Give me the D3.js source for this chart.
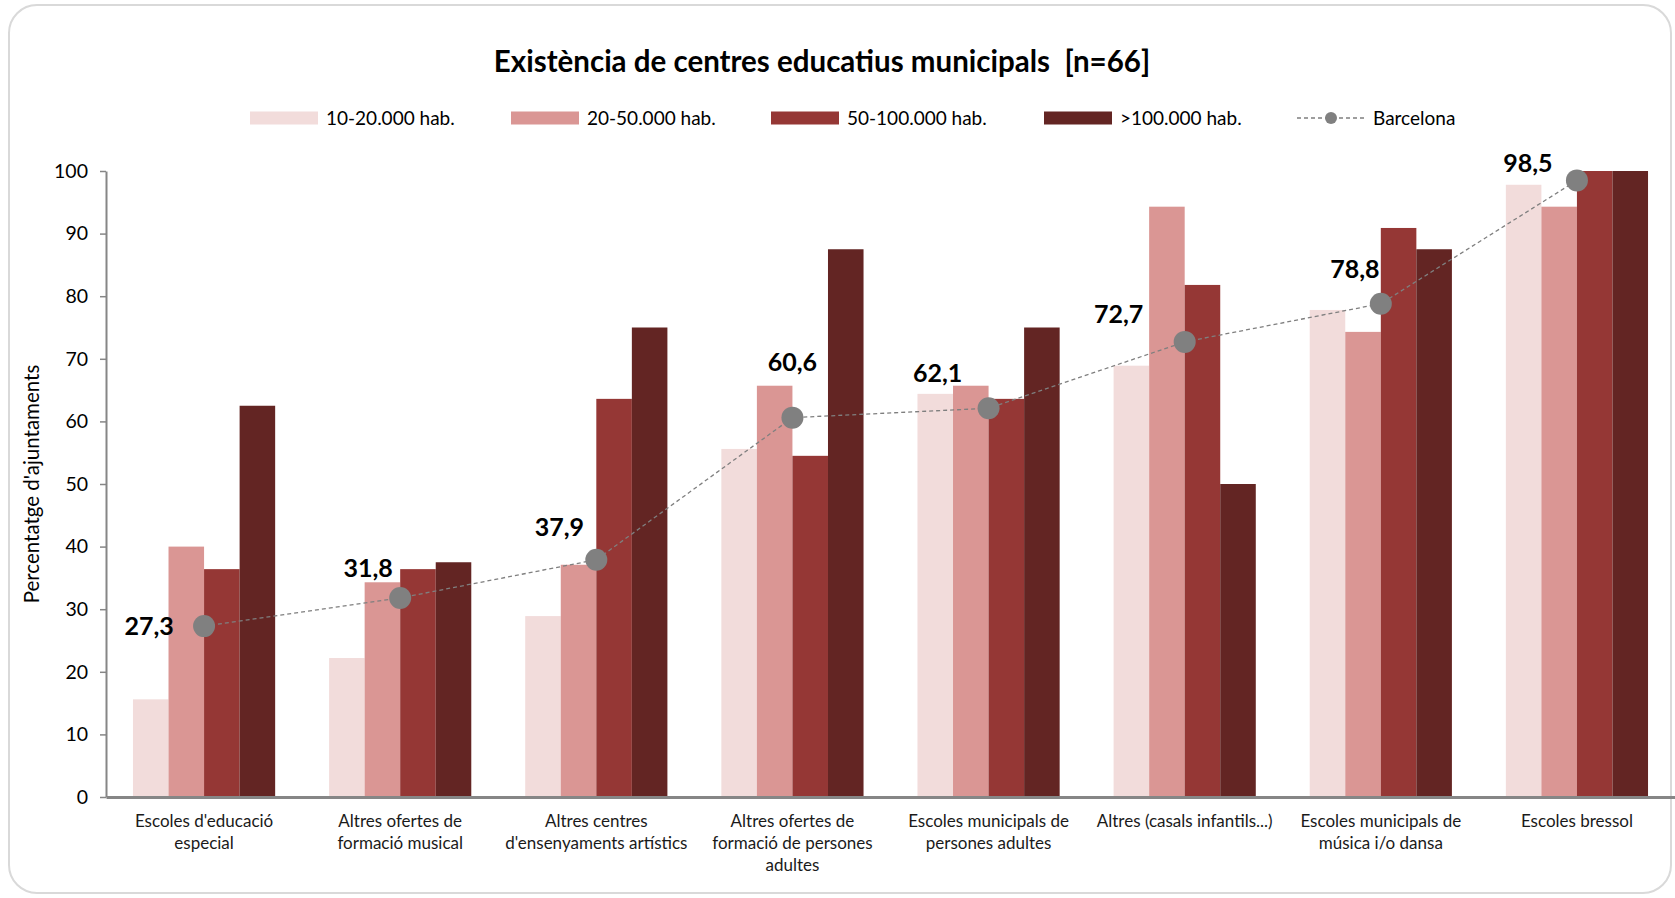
<!DOCTYPE html>
<html>
<head>
<meta charset="utf-8">
<script src="https://cdn.jsdelivr.net/npm/d3@7"></script>
<style>
  body { margin: 0; background: #fff; }
  svg, svg text { font-family: Lato, "Open Sans", sans-serif; }
  svg { display: block; }
</style>
</head>
<body>
<svg></svg>
<script>
// chart data

var categories = [
	"Escoles d'educació\nespecial",
	"Altres ofertes de\nformació musical",
	"Altres centres\nd'ensenyaments artístics",
	"Altres ofertes de\nformació de persones\nadultes",
	"Escoles municipals de\npersones adultes",
	"Altres (casals infantils...)",
	"Escoles municipals de\nmúsica i/o dansa",
	"Escoles bressol"
];

var series = ['10-20.000 hab.', '20-50.000 hab.', '50-100.000 hab.', '>100.000 hab.'];

var hab10_20 = [15.6, 22.2, 28.9, 55.6, 64.4, 68.9, 77.8, 97.8];
var hab20_50 = [40.0, 34.3, 37.1, 65.7, 65.7, 94.3, 74.3, 94.3];
var hab50_100 = [36.4, 36.4, 63.6, 54.5, 63.6, 81.8, 90.9, 100];
var hab100 = [62.5, 37.5, 75.0, 87.5, 75.0, 50.0, 87.5, 100];

var barcelona = [27.3, 31.8, 37.9, 60.6, 62.1, 72.7, 78.8, 98.5];

var yTicks = [0, 10, 20, 30, 40, 50, 60, 70, 80, 90, 100];

var colors = ['#f2dcdb', '#da9694', '#953735', '#632523'];

// hand placed label nudges (px) for the Barcelona values, like in the excel original
var labelNudge = [[-55, 0], [-32, -30], [-37, -32], [0, -55], [-51, -35], [-66, -28], [-26, -34], [-49, -17]];

var width = 1675,
	height = 898,
	plotLeft = 106,
	plotTop = 171,
	plotBottom = 797;

var table = categories.map((c, i) => ({
	cat: c,
	values: [hab10_20[i], hab20_50[i], hab50_100[i], hab100[i]],
	bcn: barcelona[i]
}));

var x0 = d3.scaleBand()
			.domain(categories)
			.range([plotLeft, width])
			.paddingInner(0.275)
			.paddingOuter(0.1375);

var x1 = d3.scaleBand()
			.domain(d3.range(series.length))
			.range([0, x0.bandwidth()]);

var yScale = d3.scaleLinear()
				.domain([0, 100])
				.range([plotBottom, plotTop]);

var svg = d3.select('svg')
			.attr('width', width)
			.attr('height', height);

// rounded frame
svg.append('rect')
	.attr('x', 9)
	.attr('y', 5)
	.attr('width', 1662)
	.attr('height', 888)
	.attr('rx', 28)
	.attr('fill', 'none')
	.attr('stroke', '#d9d9d9')
	.attr('stroke-width', 2);

// title
svg.append('text')
	.attr('x', 822)
	.attr('y', 72)
	.style('text-anchor', 'middle')
	.style('font-size', '29.5px')
	.style('font-weight', 'bold')
	.attr('fill', '#000')
	.attr('xml:space', 'preserve')
	.text('Existència de centres educatius municipals  [n=66]');

// bars
var groups = svg.selectAll('g.grp')
	.data(table)
	.enter()
	.append('g')
		.attr('class', 'grp')
		.attr('transform', d => 'translate(' + x0(d.cat) + ',0)');

groups.selectAll('rect')
	.data(d => d.values)
	.enter()
	.append('rect')
		.attr('x', (d, i) => x1(i))
		.attr('y', d => yScale(d))
		.attr('width', x1.bandwidth())
		.attr('height', d => plotBottom - yScale(d))
		.attr('fill', (d, i) => colors[i]);

// y axis
var yAxis = d3.axisLeft(yScale)
			.tickValues(yTicks)
			.tickSize(6)
			.tickSizeOuter(0)
			.tickPadding(12);

var gy = svg.append('g')
	.attr('transform', 'translate(' + plotLeft + ',0)')
	.call(yAxis)
	.attr('font-family', null);
gy.select('.domain').attr('stroke', '#868686').attr('stroke-width', 2);
gy.selectAll('.tick line').attr('stroke', '#868686').attr('stroke-width', 1.5);
gy.selectAll('.tick text')
	.style('font-size', '19.5px')
	.attr('fill', '#000');

// x axis
var gx = svg.append('g')
	.attr('transform', 'translate(0,' + plotBottom + ')')
	.call(d3.axisBottom(x0).tickSize(0).tickSizeOuter(0).tickFormat(''))
	.attr('font-family', null);
gx.select('.domain').attr('stroke', '#868686').attr('stroke-width', 3);

gx.selectAll('.tick').each(function(d) {
	var t = d3.select(this).append('text')
		.attr('fill', '#1a1a1a')
		.style('text-anchor', 'middle')
		.style('font-size', '17px');
	d.split('\n').forEach((line, k) => {
		t.append('tspan')
			.attr('x', 0)
			.attr('y', 30 + k * 22)
			.text(line);
	});
});

// y axis title
svg.append('text')
	.attr('transform', 'translate(39,' + ((plotTop + plotBottom) / 2) + ') rotate(-90)')
	.style('text-anchor', 'middle')
	.style('font-size', '20.5px')
	.attr('fill', '#000')
	.text("Percentatge d'ajuntaments");

// Barcelona line
var cx = d => x0(d.cat) + x0.bandwidth() / 2;

var line = d3.line()
	.x(cx)
	.y(d => yScale(d.bcn));

svg.append('path')
	.datum(table)
	.attr('d', line)
	.attr('fill', 'none')
	.attr('stroke', '#7f7f7f')
	.attr('stroke-width', 1.3)
	.attr('stroke-dasharray', '4,3');

svg.selectAll('circle.bcn')
	.data(table)
	.enter()
	.append('circle')
		.attr('class', 'bcn')
		.attr('cx', cx)
		.attr('cy', d => yScale(d.bcn))
		.attr('r', 11)
		.attr('fill', '#808080');

svg.selectAll('text.bcn')
	.data(table)
	.enter()
	.append('text')
		.attr('class', 'bcn')
		.attr('x', (d, i) => cx(d) + labelNudge[i][0])
		.attr('y', (d, i) => yScale(d.bcn) + labelNudge[i][1])
		.attr('dy', '0.35em')
		.style('text-anchor', 'middle')
		.style('font-size', '25px')
		.style('font-weight', 'bold')
		.attr('fill', '#000')
		.text(d => d3.format('.1f')(d.bcn).replace('.', ','));

// legend
var legendX = [250, 511, 771, 1044];
var legend = svg.selectAll('g.leg')
	.data(series)
	.enter()
	.append('g')
		.attr('class', 'leg')
		.attr('transform', (d, i) => 'translate(' + legendX[i] + ',118)');

legend.append('rect')
	.attr('x', 0)
	.attr('y', -6.5)
	.attr('width', 68)
	.attr('height', 13)
	.attr('fill', (d, i) => colors[i]);

legend.append('text')
	.attr('x', 76)
	.attr('dy', '0.35em')
	.style('font-size', '19px')
	.attr('fill', '#000')
	.text(d => d);

var bl = svg.append('g').attr('transform', 'translate(1297,118)');
bl.append('line')
	.attr('x1', 0).attr('x2', 68)
	.attr('stroke', '#7f7f7f')
	.attr('stroke-width', 1.3)
	.attr('stroke-dasharray', '4,3');
bl.append('circle')
	.attr('cx', 34)
	.attr('r', 6)
	.attr('fill', '#808080');
bl.append('text')
	.attr('x', 76)
	.attr('dy', '0.35em')
	.style('font-size', '19px')
	.attr('fill', '#000')
	.text('Barcelona');
</script>
</body>
</html>
